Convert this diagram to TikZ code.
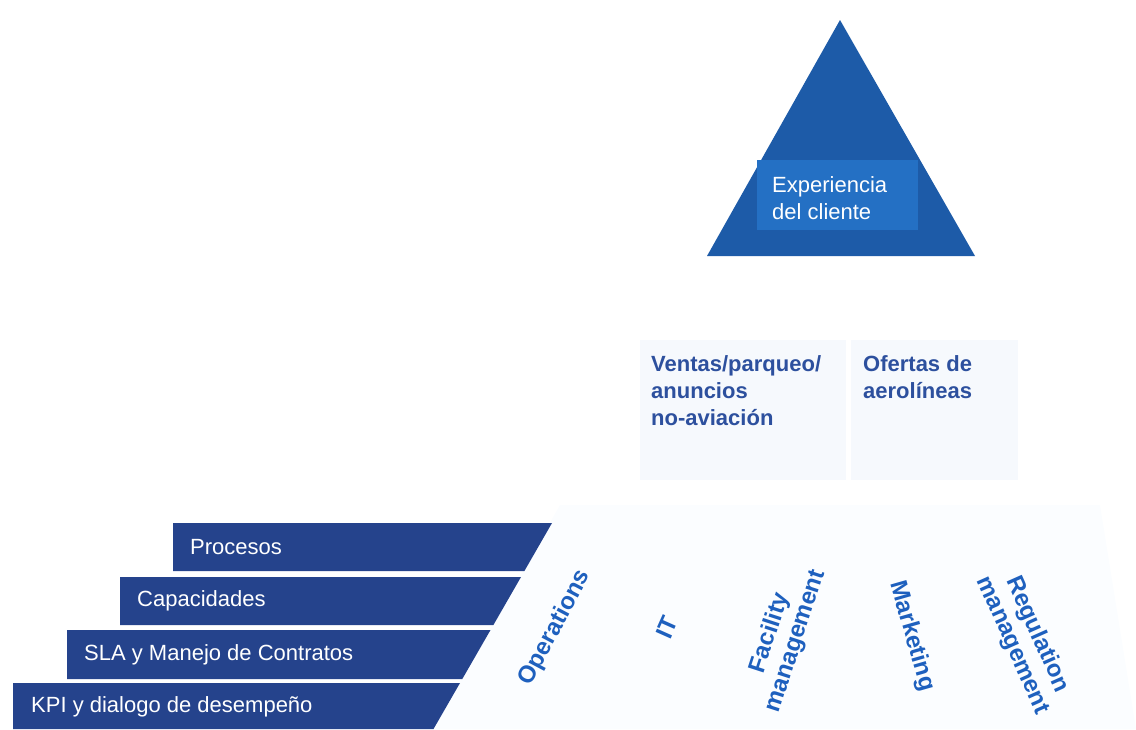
\documentclass[tikz,border=0pt]{standalone}
\usepackage{fontspec}
\setmainfont{Liberation Sans}
\definecolor{barblue}{RGB}{37,67,140}
\definecolor{tripblue}{RGB}{29,91,168}
\definecolor{innerblue}{RGB}{36,112,196}
\definecolor{midtext}{RGB}{45,80,158}
\definecolor{sidetext}{RGB}{30,96,190}
\definecolor{faintA}{RGB}{246,249,253}
\definecolor{faintB}{RGB}{251,253,255}
\tikzset{
  barbox/.style={fill=barblue, draw=none},
  bartext/.style={anchor=west, text=white, inner sep=0pt, font=\fontsize{22}{27}\selectfont},
  midlabel/.style={anchor=base west, align=left, text=midtext, inner sep=0pt, font=\fontsize{22}{27}\selectfont\bfseries},
  sidelabel/.style={align=center, text=sidetext, inner sep=0pt, font=\fontsize{24}{27}\selectfont\bfseries},
}
\begin{document}
\begin{tikzpicture}[x=1pt, y=-1pt]
\useasboundingbox (0,0) rectangle (1136,729);
% faint background layers
\fill[faintB] (560,505) -- (1100,505) -- (1136,729) -- (433,729) -- cycle;
\fill[faintA] (640,340) rectangle (846,480);
\fill[faintA] (851,340) rectangle (1018,480);
% top triangle
\fill[tripblue] (840,20) -- (975,256) -- (707,256) -- cycle;
\fill[innerblue] (757,160) rectangle (918,230);
\node[anchor=base west, align=left, text=white, inner sep=0pt, font=\fontsize{22}{27}\selectfont] (exp) at (772,219) {Experiencia\\del cliente};
% middle layer
\node[midlabel] (ventas) at (651,425) {Ventas/parqueo/\\anuncios\\no-aviación};
\node[midlabel] (ofertas) at (863,398) {Ofertas de\\aerolíneas};
% steps
\fill[barbox] (173,523) -- (552,523) -- (524.4,571) -- (173,571) -- cycle;
\fill[barbox] (120,577) -- (521,577) -- (493.4,625) -- (120,625) -- cycle;
\fill[barbox] (67,630) -- (490.5,630) -- (462.3,679) -- (67,679) -- cycle;
\fill[barbox] (13,683) -- (460,683) -- (433.5,729) -- (13,729) -- cycle;
\node[bartext] (procesos) at (190,547) {Procesos};
\node[bartext] (capacidades) at (137,601) {Capacidades};
\node[bartext] (sla) at (84,655) {SLA y Manejo de Contratos};
\node[bartext] (kpi) at (31,707) {KPI y dialogo de desempeño};
% side labels
\node[sidelabel, rotate=62] (ops) at (555,628) {Operations};
\node[sidelabel, rotate=66] (it) at (667,627) {IT};
\node[sidelabel, rotate=72] (fac) at (783,637) {Facility\\management};
\node[sidelabel, rotate=-74] (mkt) at (912,636) {Marketing};
\node[sidelabel, rotate=-66] (reg) at (1025,640) {Regulation\\management};
\end{tikzpicture}
\end{document}
